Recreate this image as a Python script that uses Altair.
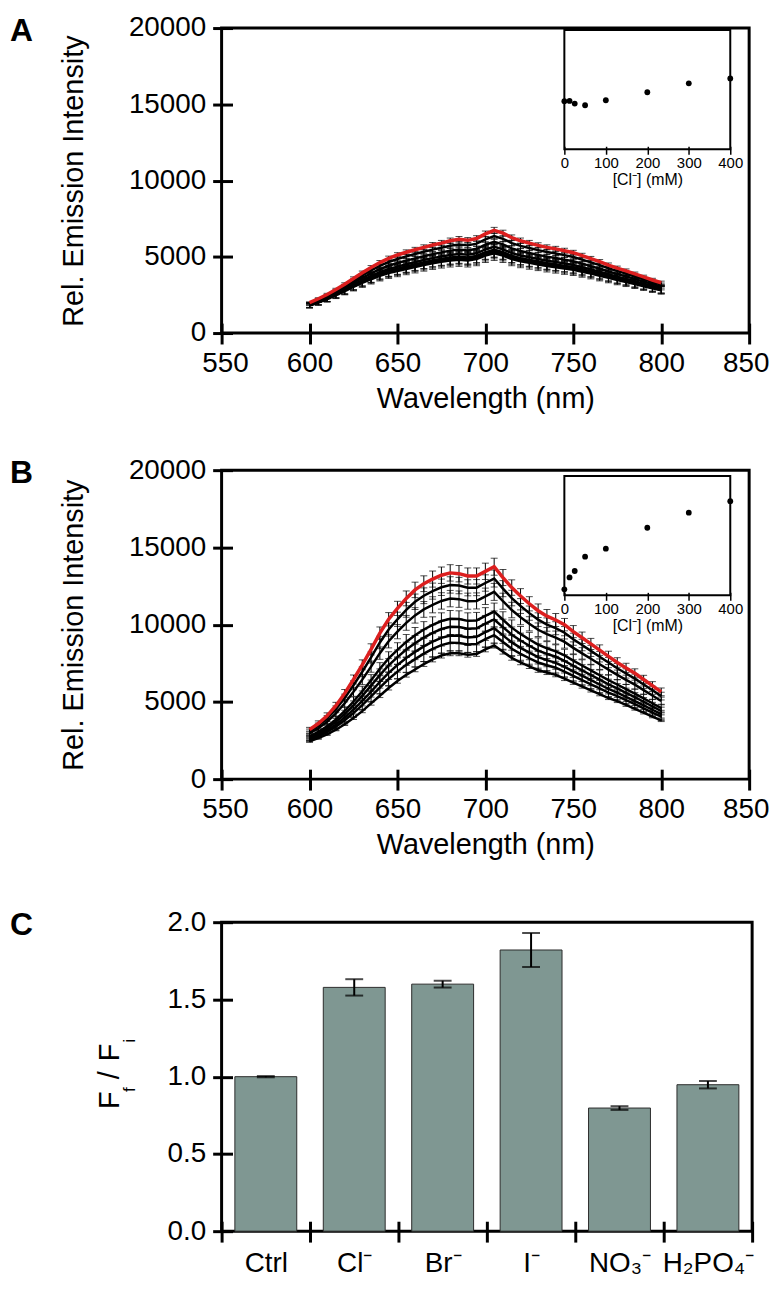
import altair as alt
import pandas as pd

FONT = "Liberation Sans"

WL = list(range(600, 801, 5))
CONC = ["0", "12.5", "25", "50", "100", "200", "300", "400"]

A_0 = [1830, 2040, 2275, 2535, 2820, 3115, 3390, 3645, 3880, 4075, 4220, 4365, 4500, 4635, 4760, 4865, 4955, 5005, 4960, 5055, 5295, 5455, 5300, 5060, 4910, 4795, 4690, 4585, 4500, 4405, 4320, 4180, 4045, 3900, 3745, 3595, 3460, 3310, 3160, 3015, 2875]
A_12 = [1825, 2035, 2270, 2530, 2810, 3100, 3375, 3630, 3865, 4055, 4200, 4345, 4475, 4610, 4735, 4840, 4930, 4975, 4930, 5025, 5265, 5425, 5270, 5030, 4885, 4770, 4665, 4560, 4475, 4380, 4295, 4160, 4025, 3880, 3730, 3580, 3445, 3295, 3150, 3000, 2865]
A_25 = [1815, 2020, 2250, 2505, 2780, 3070, 3335, 3585, 3810, 4000, 4135, 4275, 4410, 4540, 4665, 4765, 4850, 4895, 4850, 4945, 5180, 5335, 5185, 4950, 4805, 4690, 4590, 4485, 4405, 4310, 4230, 4095, 3970, 3825, 3680, 3535, 3400, 3255, 3115, 2970, 2835]
A_50 = [1800, 2000, 2230, 2480, 2750, 3030, 3290, 3530, 3750, 3930, 4060, 4200, 4330, 4460, 4580, 4680, 4760, 4800, 4760, 4850, 5080, 5230, 5080, 4850, 4710, 4600, 4500, 4400, 4320, 4230, 4150, 4020, 3900, 3760, 3620, 3480, 3350, 3210, 3070, 2930, 2800]
A_100 = [1855, 2070, 2315, 2585, 2875, 3185, 3475, 3745, 3995, 4200, 4355, 4510, 4645, 4785, 4915, 5020, 5120, 5180, 5130, 5230, 5480, 5650, 5490, 5240, 5085, 4965, 4850, 4740, 4655, 4560, 4465, 4315, 4175, 4020, 3855, 3700, 3555, 3400, 3240, 3085, 2935]
A_200 = [1895, 2125, 2380, 2665, 2975, 3305, 3620, 3915, 4185, 4415, 4590, 4750, 4895, 5040, 5175, 5290, 5405, 5475, 5420, 5525, 5790, 5980, 5815, 5550, 5380, 5250, 5125, 5010, 4920, 4815, 4710, 4550, 4390, 4220, 4040, 3870, 3715, 3545, 3375, 3205, 3050]
A_300 = [1940, 2190, 2455, 2760, 3090, 3440, 3785, 4110, 4400, 4660, 4855, 5025, 5180, 5330, 5470, 5595, 5730, 5810, 5750, 5860, 6145, 6355, 6180, 5900, 5715, 5575, 5440, 5315, 5220, 5110, 4990, 4815, 4635, 4450, 4250, 4065, 3900, 3710, 3530, 3340, 3175]
A_400 = [1990, 2250, 2530, 2850, 3200, 3580, 3950, 4300, 4620, 4900, 5120, 5300, 5460, 5620, 5770, 5900, 6050, 6150, 6080, 6200, 6500, 6730, 6550, 6250, 6050, 5900, 5750, 5620, 5520, 5400, 5270, 5080, 4880, 4680, 4460, 4260, 4080, 3880, 3680, 3480, 3300]
ERR_A_LOW = [160, 180, 200, 220, 245, 270, 295, 315, 335, 350, 365, 375, 390, 400, 410, 420, 430, 430, 430, 435, 455, 470, 455, 435, 425, 415, 405, 395, 390, 380, 375, 360, 350, 340, 325, 315, 300, 290, 275, 265, 250]
ERR_A_HIGH = [60, 65, 75, 85, 95, 105, 115, 125, 135, 145, 150, 155, 160, 165, 170, 175, 180, 180, 180, 185, 190, 200, 195, 185, 180, 175, 170, 165, 165, 160, 155, 150, 145, 140, 135, 130, 125, 120, 115, 110, 105]

B_0 = [2450, 2650, 2900, 3200, 3550, 3950, 4400, 4900, 5400, 5900, 6350, 6750, 7100, 7450, 7750, 8000, 8150, 8150, 8050, 8100, 8400, 8650, 8250, 7850, 7550, 7300, 7050, 6900, 6750, 6500, 6250, 6000, 5750, 5500, 5250, 5050, 4800, 4550, 4300, 4050, 3800]
B_12 = [2550, 2775, 3055, 3400, 3810, 4275, 4790, 5355, 5925, 6480, 6960, 7395, 7770, 8125, 8425, 8675, 8825, 8820, 8715, 8755, 9055, 9315, 8875, 8440, 8110, 7825, 7550, 7375, 7210, 6955, 6680, 6410, 6140, 5870, 5600, 5375, 5110, 4850, 4580, 4310, 4040]
B_25 = [2615, 2860, 3165, 3540, 3990, 4500, 5060, 5670, 6290, 6880, 7385, 7840, 8235, 8595, 8895, 9145, 9295, 9285, 9170, 9210, 9510, 9770, 9305, 8850, 8495, 8190, 7895, 7705, 7530, 7270, 6975, 6695, 6410, 6125, 5845, 5600, 5330, 5055, 4775, 4490, 4205]
B_50 = [2700, 2965, 3295, 3710, 4210, 4775, 5390, 6055, 6735, 7370, 7900, 8385, 8800, 9165, 9465, 9715, 9865, 9850, 9735, 9765, 10065, 10335, 9835, 9350, 8970, 8635, 8320, 8105, 7920, 7655, 7340, 7040, 6740, 6440, 6140, 5875, 5590, 5310, 5010, 4710, 4410]
B_100 = [2775, 3060, 3415, 3865, 4410, 5025, 5690, 6405, 7140, 7815, 8370, 8880, 9315, 9685, 9985, 10235, 10385, 10365, 10245, 10270, 10570, 10845, 10315, 9805, 9400, 9040, 8705, 8470, 8275, 8005, 7670, 7355, 7040, 6725, 6410, 6125, 5830, 5540, 5225, 4910, 4595]
B_200 = [2960, 3295, 3715, 4255, 4910, 5650, 6440, 7280, 8155, 8925, 9545, 10115, 10600, 10985, 11285, 11535, 11685, 11650, 11520, 11535, 11835, 12120, 11515, 10945, 10475, 10055, 9670, 9380, 9165, 8880, 8495, 8140, 7790, 7440, 7085, 6750, 6430, 6115, 5760, 5410, 5060]
B_300 = [3090, 3460, 3920, 4520, 5250, 6075, 6950, 7875, 8845, 9685, 10345, 10960, 11480, 11870, 12170, 12420, 12570, 12530, 12385, 12395, 12695, 12985, 12330, 11720, 11205, 10745, 10325, 10005, 9770, 9475, 9055, 8680, 8300, 7925, 7545, 7175, 6840, 6505, 6130, 5750, 5375]
B_400 = [3200, 3600, 4100, 4750, 5550, 6450, 7400, 8400, 9450, 10350, 11050, 11700, 12250, 12650, 12950, 13200, 13350, 13300, 13150, 13150, 13450, 13750, 13050, 12400, 11850, 11350, 10900, 10550, 10300, 10000, 9550, 9150, 8750, 8350, 7950, 7550, 7200, 6850, 6450, 6050, 5650]
ERR_B = [150, 170, 190, 220, 250, 290, 320, 360, 400, 430, 460, 480, 500, 510, 520, 530, 530, 530, 520, 520, 530, 550, 520, 500, 480, 460, 440, 430, 420, 400, 390, 370, 360, 340, 330, 310, 300, 290, 270, 260, 250]
ERR_B_SMALL = [50, 55, 60, 70, 80, 90, 100, 110, 120, 130, 140, 145, 150, 155, 160, 160, 160, 160, 155, 155, 160, 165, 155, 150, 145, 140, 135, 130, 125, 120, 115, 110, 110, 105, 100, 95, 90, 85, 80, 80, 75]

INSET_CONC = [0, 12.5, 25, 50, 100, 200, 300, 400]
INSET_A = [0.403, 0.405, 0.383, 0.369, 0.411, 0.478, 0.553, 0.594]
INSET_B = [0.05, 0.15, 0.204, 0.324, 0.391, 0.567, 0.693, 0.79]
INSET_XDOM = [0, 400]
INSET_YDOM = [0, 1]
INSET_TICKS = [0, 100, 200, 300, 400]

IONS = ["Ctrl", "Cl⁻", "Br⁻", "I⁻", "NO₃⁻", "H₂PO₄⁻"]
RATIO = [1.0, 1.578, 1.599, 1.82, 0.797, 0.948]
RATIO_ERR = [0.004, 0.053, 0.022, 0.11, 0.012, 0.024]

X_TICKS = [550, 600, 650, 700, 750, 800, 850]
Y_TICKS = [0, 5000, 10000, 15000, 20000]
C_TICKS = [0.0, 0.5, 1.0, 1.5, 2.0]

SPEC_A = dict(zip(CONC, [A_0, A_12, A_25, A_50, A_100, A_200, A_300, A_400]))
ERRS_A = dict(zip(CONC, [ERR_A_LOW] * 4 + [ERR_A_HIGH] * 4))
SPEC_B = dict(zip(CONC, [B_0, B_12, B_25, B_50, B_100, B_200, B_300, B_400]))
ERRS_B = dict(zip(CONC, [ERR_B_SMALL] + [ERR_B] * 7))

W_AB, H_A, H_B = 531, 307, 311
W_C, H_C = 534, 311
RED = "#dc1f1f"


def spectra_df(spec, errs):
    rows = []
    for c in CONC:
        for w, v, e in zip(WL, spec[c], errs[c]):
            rows.append({"wl": w, "conc": c, "v": v, "lo": v - e, "hi": v + e})
    return pd.DataFrame(rows)


def spectra_panel(spec, errs, inset_vals, letter, h, inset_top):
    df = spectra_df(spec, errs)
    xs = alt.Scale(domain=[550, 850], nice=False, zero=False)
    ys = alt.Scale(domain=[0, 20000], nice=False)
    xax = alt.Axis(orient="bottom", values=X_TICKS, format="d", offset=-10, tickSize=21,
                   labelPadding=6, labelFlush=True, labelFlushOffset=20,
                   title="Wavelength (nm)", titlePadding=7)
    yax = alt.Axis(orient="left", values=Y_TICKS, format="d", offset=-11, tickSize=20,
                   labelPadding=7, title="Rel. Emission Intensity", titlePadding=40)
    X = alt.X("wl:Q", scale=xs, axis=xax)
    base = alt.Chart(df)
    rules = base.mark_rule(color="black", strokeWidth=1).encode(
        x=X, y=alt.Y("lo:Q", scale=ys, axis=yax), y2="hi:Q")
    caps = base.transform_fold(["lo", "hi"], as_=["k", "e"]).mark_tick(
        orient="horizontal", size=7, thickness=1, color="black").encode(
        x=X, y=alt.Y("e:Q", scale=ys, axis=yax))
    lines = base.transform_filter(alt.datum.conc != "400").mark_line(
        color="black", strokeWidth=2.5).encode(
        x=X, y=alt.Y("v:Q", scale=ys, axis=yax), detail="conc:N")
    red = base.transform_filter(alt.datum.conc == "400").mark_line(
        color=RED, strokeWidth=3.5).encode(x=X, y=alt.Y("v:Q", scale=ys, axis=yax))
    lab = alt.Chart(pd.DataFrame({"t": [letter]})).mark_text(
        font=FONT, fontSize=32, fontWeight="bold", align="left", baseline="top").encode(
        x=alt.value(-213), y=alt.value(-12), text="t:N")
    main = alt.layer(rules, caps, lines, red, lab)

    inset_bottom = inset_top + 120
    ix = alt.Scale(domain=INSET_XDOM, range=[345, 512], nice=False, zero=False)
    iy = alt.Scale(domain=INSET_YDOM, range=[inset_bottom, inset_top], nice=False)
    ixax = alt.Axis(orient="bottom", values=INSET_TICKS, format="d",
                    offset=-(h - inset_bottom) - 3, tickSize=8, tickWidth=1.5,
                    labelFontSize=15, labelPadding=1, labelFlush=False,
                    title="[Cl⁻] (mM)", titleFontSize=16, titlePadding=1)
    IX_C = alt.X("c:Q", scale=ix, axis=ixax)
    frame_df = pd.DataFrame({"c": [INSET_XDOM[0]], "c1": [INSET_XDOM[1]],
                             "v": [INSET_YDOM[0]], "v1": [INSET_YDOM[1]]})
    frame = alt.Chart(frame_df).mark_rect(fillOpacity=0, stroke="black", strokeWidth=2).encode(
        x=IX_C, x2="c1:Q", y=alt.Y("v:Q", scale=iy, axis=None), y2="v1:Q")
    pts = alt.Chart(pd.DataFrame({"c": INSET_CONC, "v": inset_vals})).mark_circle(
        size=34, color="black", opacity=1).encode(
        x=IX_C, y=alt.Y("v:Q", scale=iy, axis=None))
    inset = alt.layer(frame, pts)
    return alt.layer(main, inset).resolve_scale(x="independent", y="independent").properties(
        width=W_AB, height=h)


panel_a = spectra_panel(SPEC_A, ERRS_A, INSET_A, "A", H_A, 2)
panel_b = spectra_panel(SPEC_B, ERRS_B, INSET_B, "B", H_B, 6)

dfc = pd.DataFrame({"ion": IONS, "r": RATIO,
                    "lo": [r - e for r, e in zip(RATIO, RATIO_ERR)],
                    "hi": [r + e for r, e in zip(RATIO, RATIO_ERR)]})
cx = alt.Scale(domain=IONS, paddingInner=0, paddingOuter=0)
cy = alt.Scale(domain=[0, 2], nice=False)
cxax = alt.Axis(orient="bottom", tickBand="extent", offset=-10, tickSize=21, labelPadding=8,
                title=None, labelAngle=0)
cyax = alt.Axis(orient="left", values=C_TICKS, format=".1f", offset=-11, tickSize=20,
                labelPadding=7, title=None)
CX = alt.X("ion:N", scale=cx, axis=cxax, sort=IONS)
cbase = alt.Chart(dfc)
bars = cbase.mark_bar(width=alt.RelativeBandSize(0.7), color="#7f9792", stroke="#2b2b2b",
                      strokeWidth=1).encode(x=CX, y=alt.Y("r:Q", scale=cy, axis=cyax))
crule = cbase.mark_rule(color="black", strokeWidth=2).encode(
    x=CX, y=alt.Y("lo:Q", scale=cy, axis=cyax), y2="hi:Q")
ccaps = cbase.transform_fold(["lo", "hi"], as_=["k", "e"]).mark_tick(
    orient="horizontal", size=18, thickness=2, color="black").encode(
    x=CX, y=alt.Y("e:Q", scale=cy, axis=cyax))

TITLE_PARTS = pd.DataFrame({
    "t": ["F", "f", "/", "F", "i"],
    "px": [-103, -87, -103, -103, -87],
    "py": [188, 171, 158, 140, 121],
    "fs": [29, 17, 29, 29, 17],
})
ctitle = alt.Chart(TITLE_PARTS).mark_text(font=FONT, angle=270, align="left",
                                          baseline="alphabetic", color="black").encode(
    x=alt.X("px:Q", scale=None), y=alt.Y("py:Q", scale=None), text="t:N",
    size=alt.Size("fs:Q", scale=None, legend=None))
clab = alt.Chart(pd.DataFrame({"t": ["C"]})).mark_text(
    font=FONT, fontSize=32, fontWeight="bold", align="left", baseline="top").encode(
    x=alt.value(-213), y=alt.value(-12), text="t:N")
panel_c = alt.layer(bars, crule, ccaps, ctitle, clab).properties(width=W_C, height=H_C)

chart = alt.vconcat(alt.vconcat(panel_a, panel_b, spacing=39), panel_c, spacing=45).properties(
    padding={"left": 0, "top": 0, "right": 0, "bottom": 0}
).configure_view(stroke="black", strokeWidth=3).configure_axis(
    labelFont=FONT, titleFont=FONT, labelFontSize=28, titleFontSize=29,
    titleFontWeight="normal", labelColor="black", titleColor="black",
    tickColor="black", tickWidth=3, grid=False, domain=False)

chart.save("out.html", embed_options={"renderer": "svg", "actions": False})
